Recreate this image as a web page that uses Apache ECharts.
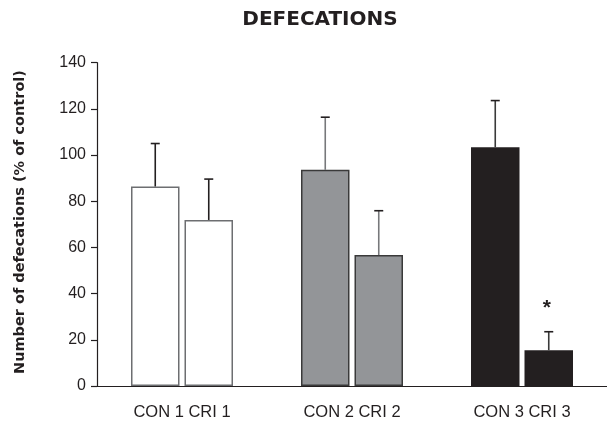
<!DOCTYPE html>
<html>
<head>
<meta charset="utf-8">
<script src="https://cdn.jsdelivr.net/npm/echarts@6/dist/echarts.min.js"></script>
<style>
html,body{margin:0;padding:0;background:#fff;}
#chart{width:607px;height:421px;}
</style>
</head>
<body>
<div id="chart"></div>
<script>
// ---- data ----
const categories = ['CON 1 CRI 1', 'CON 2 CRI 2', 'CON 3 CRI 3'];
const conValues = [86.4, 93.6, 103.4];
const criValues = [71.9, 56.7, 15.5];
const conErrors = [18.6, 22.8, 20.2];
const criErrors = [17.7, 19.2, 8.0];
const significance = ['', '', '*'];
const yTicks = [0, 20, 40, 60, 80, 100, 120, 140];

// ---- styles ----
const FONT = '"Liberation Sans", Arial, sans-serif';
const WIDE = '"DejaVu Sans", "Liberation Sans", sans-serif';
const groupFill = ['#ffffff', '#939598', '#231f20'];
const groupBorder = ['#6d6e71', '#3a3a3a', '#231f20'];
const errStem = ['#231f20', '#77787b', '#3a3a3a'];
const errCap = ['#231f20', '#231f20', '#231f20'];
const BAR_W = 48.5;
const BAR_GAP = 5;
const OFFSET = (BAR_W + BAR_GAP) / 2;

function barData(vals) {
  return vals.map((v, i) => ({
    value: v,
    itemStyle: { color: groupFill[i], borderColor: groupBorder[i], borderWidth: i === 2 ? 0 : 1.5 }
  }));
}

function errData(vals, errs, dir) {
  return vals.map((v, i) => [i, v, v + errs[i], dir, dir > 0 ? significance[i] : '']);
}

function renderErr(params, api) {
  const i = api.value(0);
  const dir = api.value(3);
  const base = api.coord([i, api.value(1)]);
  const top = api.coord([i, api.value(2)]);
  const x = base[0] + dir * OFFSET;
  const children = [
    { type: 'line', shape: { x1: x, y1: base[1], x2: x, y2: top[1] },
      style: { stroke: errStem[i], lineWidth: 1.6 } },
    { type: 'line', shape: { x1: x - 4.5, y1: top[1], x2: x + 4.5, y2: top[1] },
      style: { stroke: errCap[i], lineWidth: 1.6 } }
  ];
  const sig = api.value(4);
  if (sig) {
    children.push({ type: 'text', x: x - 2, y: top[1] - 24,
      style: { text: String(sig), font: 'bold 21px ' + FONT, fill: '#231f20', align: 'center', verticalAlign: 'middle' } });
  }
  return { type: 'group', children };
}

const chart = echarts.init(document.getElementById('chart'), null, { renderer: 'canvas' });
chart.setOption({
  animation: false,
  backgroundColor: '#ffffff',
  grid: { left: 97, top: 62.7, width: 519, height: 325.6, containLabel: false },
  graphic: [
    { type: 'text', x: 320, y: 20,
      style: { text: 'DEFECATIONS', font: 'bold 20px ' + WIDE, fill: '#231f20', align: 'center', verticalAlign: 'middle' } },
    { type: 'text', x: 20, y: 222, rotation: Math.PI / 2,
      style: { text: 'Number of defecations (% of control)', font: 'bold 14.5px ' + WIDE, fill: '#231f20', align: 'center', verticalAlign: 'middle' } }
  ],
  xAxis: {
    type: 'category',
    data: categories,
    axisLine: { lineStyle: { color: '#231f20', width: 1.2 } },
    axisTick: { show: false },
    axisLabel: { color: '#231f20', fontSize: 16.5, fontFamily: FONT, margin: 18 },
    splitLine: { show: false }
  },
  yAxis: {
    type: 'value',
    min: yTicks[0],
    max: yTicks[yTicks.length - 1],
    interval: yTicks[1] - yTicks[0],
    axisLine: { show: true, lineStyle: { color: '#231f20', width: 1.2 } },
    axisTick: { show: true, length: 6, lineStyle: { color: '#231f20', width: 1.2 } },
    axisLabel: { color: '#231f20', fontSize: 16, fontFamily: FONT, margin: 11 },
    splitLine: { show: false }
  },
  series: [
    { type: 'bar', name: 'CON', data: barData(conValues), barWidth: BAR_W, barGap: (BAR_GAP / BAR_W * 100) + '%' },
    { type: 'bar', name: 'CRI', data: barData(criValues), barWidth: BAR_W },
    { type: 'custom', name: 'errCON', data: errData(conValues, conErrors, -1), renderItem: renderErr, z: 5 },
    { type: 'custom', name: 'errCRI', data: errData(criValues, criErrors, 1), renderItem: renderErr, z: 5 }
  ]
});
</script>
</body>
</html>
